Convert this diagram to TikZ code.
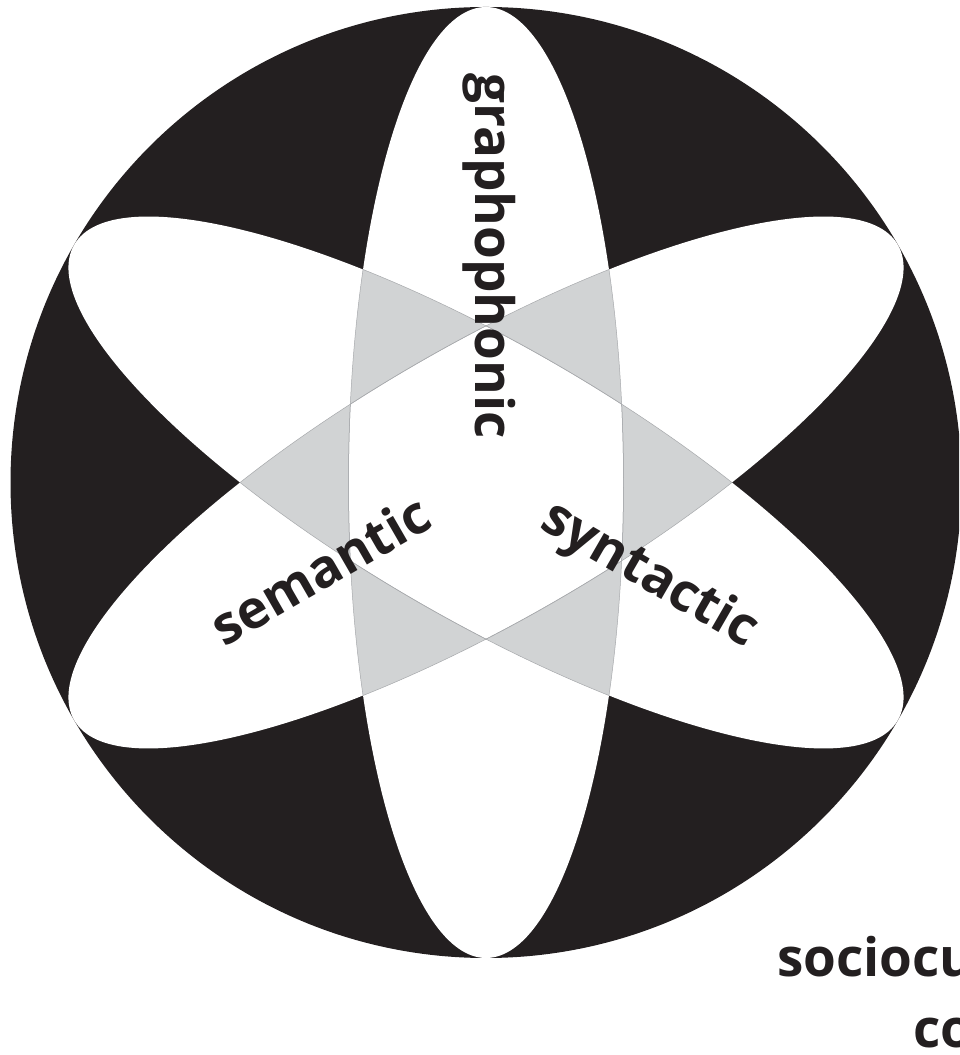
\documentclass[tikz,border=0pt]{standalone}
\usepackage{fontspec}
\setmainfont{Open Sans}
\definecolor{ink}{HTML}{231F20}
\definecolor{overlap}{HTML}{D1D3D4}
\definecolor{seam}{HTML}{A7A9AC}
\begin{document}
\begin{tikzpicture}[x=1pt,y=1pt,
  lab/.style={font=\bfseries\fontsize{53}{60}\selectfont, text=ink, inner sep=0pt},
  ellA/.style={},
  ellB/.style={rotate around={60:(C)}},
  ellC/.style={rotate around={-60:(C)}}]
\useasboundingbox (0,0) rectangle (959,1055);
\clip (0,0) rectangle (959,1055);
\coordinate (C) at (486,572.5);
\def\ell{(C) ellipse [x radius=137.5, y radius=475.5]}
% background disc
\fill[ink] (C) circle [radius=475.5];
% union of ellipses: white
\fill[white] \ell;
\fill[white, ellB] \ell;
\fill[white, ellC] \ell;
% pairwise overlaps: grey
\begin{scope}\clip \ell; \fill[overlap, ellB] \ell; \end{scope}
\begin{scope}\clip \ell; \fill[overlap, ellC] \ell; \end{scope}
\begin{scope}\clip[ellB] \ell; \fill[overlap, ellC] \ell; \end{scope}
% triple overlap: white
\begin{scope}\clip \ell; \clip[ellB] \ell; \fill[white, ellC] \ell; \end{scope}
% thin seams inside the union
\begin{scope}[line width=0.5pt, seam]
  \begin{scope}\clip[ellB] \ell; \draw \ell; \draw[ellC] \ell; \end{scope}
  \begin{scope}\clip[ellC] \ell; \draw \ell; \draw[ellB] \ell; \end{scope}
  \begin{scope}\clip \ell; \draw[ellB] \ell; \draw[ellC] \ell; \end{scope}
\end{scope}
% labels
\node[lab, anchor=base, rotate=-90] (grapho) at (475,799) {graphophonic};
\node[lab, anchor=base, rotate=30] (sem) at (330,468) {semantic};
\node[lab, anchor=base, rotate=-30] (syn) at (642,467) {syntactic};
\node[lab, anchor=base west] (socio) at (777,78) {sociocultural};
\node[lab, anchor=base west] (ctx) at (913,8) {context};
\end{tikzpicture}
\end{document}
